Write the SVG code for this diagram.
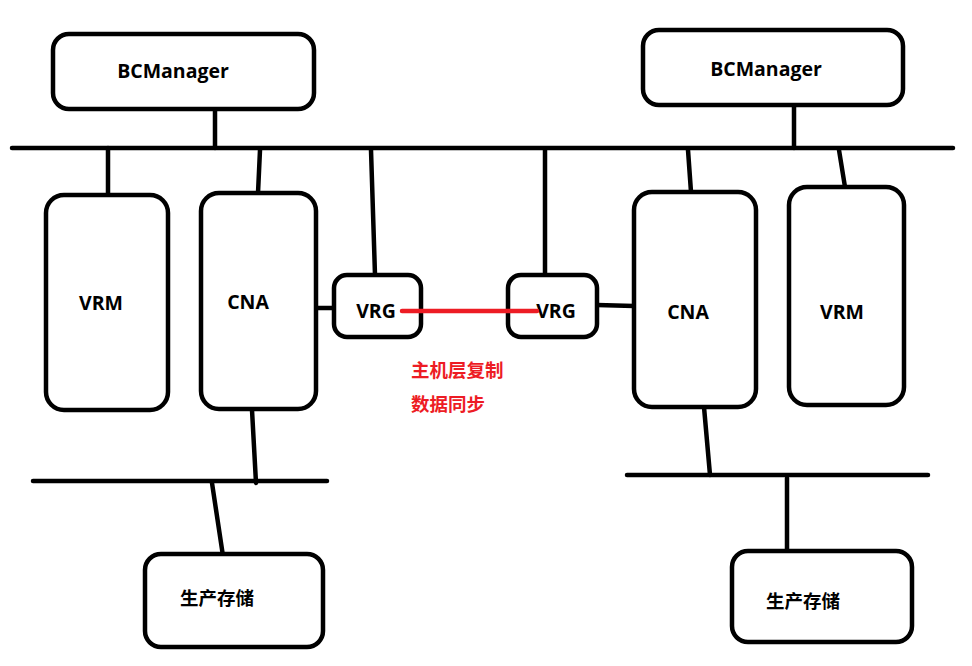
<svg xmlns="http://www.w3.org/2000/svg" width="972" height="666" viewBox="0 0 972 666">
<style>
.box{fill:#fff;stroke:#000;stroke-width:4.5}
.ln{stroke:#000;stroke-width:4.5;stroke-linecap:round;fill:none}
.t{font-family:"Open Sans","Noto Sans CJK SC",sans-serif;font-weight:bold;font-size:19.5px;fill:#000;text-anchor:middle}
.c{font-family:"Noto Sans CJK SC",sans-serif;font-weight:bold;font-size:18.5px;fill:#000}
.red{fill:#ed1c24}
</style>
<rect width="972" height="666" fill="#fff"/>
<g id="connectors">
<line class="ln" x1="12" y1="148" x2="953" y2="148"/>
<line class="ln" x1="215" y1="110" x2="215" y2="148"/>
<line class="ln" x1="794" y1="105" x2="794" y2="148"/>
<line class="ln" x1="108" y1="148" x2="108" y2="195"/>
<line class="ln" x1="260" y1="150" x2="258" y2="193"/>
<line class="ln" x1="371" y1="150" x2="375" y2="275"/>
<line class="ln" x1="316" y1="308" x2="334" y2="308"/>
<line class="ln" x1="545" y1="150" x2="545" y2="275"/>
<line class="ln" x1="597" y1="305" x2="634" y2="306"/>
<line class="ln" x1="688" y1="150" x2="691" y2="192"/>
<line class="ln" x1="839" y1="150" x2="845" y2="187"/>
<line class="ln" x1="33" y1="481" x2="327" y2="481"/>
<line class="ln" x1="252" y1="410" x2="256" y2="483"/>
<line class="ln" x1="212" y1="483" x2="223" y2="556"/>
<line class="ln" x1="627" y1="475" x2="928" y2="475"/>
<line class="ln" x1="704" y1="407" x2="710" y2="475"/>
<line class="ln" x1="787" y1="478" x2="787" y2="553"/>
</g>
<g id="bcm-left"><rect class="box" x="53" y="34" width="261" height="75" rx="16"/><text class="t" x="173" y="78">BCManager</text></g>
<g id="bcm-right"><rect class="box" x="643" y="30" width="260" height="75" rx="16"/><text class="t" x="766" y="76">BCManager</text></g>
<g id="vrm-left"><rect class="box" x="46" y="195" width="122" height="215" rx="18"/><text class="t" x="101" y="310">VRM</text></g>
<g id="cna-left"><rect class="box" x="201" y="193" width="115" height="216" rx="18"/><text class="t" x="248" y="309">CNA</text></g>
<g id="vrg-left"><rect class="box" x="334" y="275" width="87" height="62" rx="13"/><text class="t" x="376" y="318">VRG</text></g>
<g id="vrg-right"><rect class="box" x="508" y="275" width="89" height="62" rx="13"/><text class="t" x="556" y="318">VRG</text></g>
<g id="cna-right"><rect class="box" x="634" y="192" width="122" height="215" rx="18"/><text class="t" x="688" y="319">CNA</text></g>
<g id="vrm-right"><rect class="box" x="789" y="187" width="115" height="218" rx="18"/><text class="t" x="842" y="319">VRM</text></g>
<g id="sync">
<line x1="402" y1="311" x2="537" y2="311" stroke="#ed1c24" stroke-width="4.5" stroke-linecap="round"/>
<text class="c red" x="411" y="377">主机层复制</text>
<text class="c red" x="411" y="411">数据同步</text>
</g>
<g id="storage-left"><rect class="box" x="145" y="554" width="178" height="93" rx="16"/><text class="c" x="180" y="605">生产存储</text></g>
<g id="storage-right"><rect class="box" x="732" y="551" width="180" height="91" rx="16"/><text class="c" x="766" y="608">生产存储</text></g>
</svg>
